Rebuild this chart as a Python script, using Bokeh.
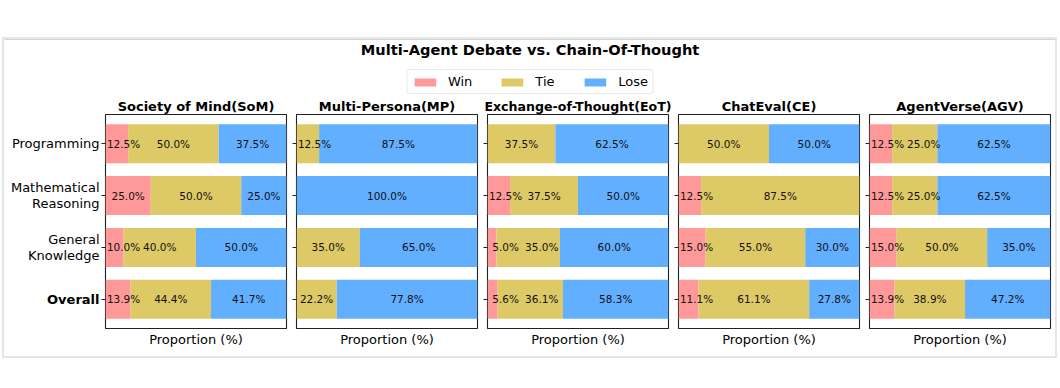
from bokeh.plotting import figure
from bokeh.models import (ColumnDataSource, Range1d, FixedTicker, LinearAxis,
                          Legend, LegendItem)
from bokeh.layouts import column, row
from bokeh.core.properties import value
from bokeh.embed import file_html
from bokeh.resources import INLINE

# ---------------- data ----------------
categories = ["Programming", "Mathematical\nReasoning", "General\nKnowledge", "Overall"]
category_bold = [False, False, False, True]
methods = ["Society of Mind(SoM)", "Multi-Persona(MP)", "Exchange-of-Thought(EoT)",
           "ChatEval(CE)", "AgentVerse(AGV)"]
win_som = [12.5, 25.0, 10.0, 13.9]
tie_som = [50.0, 50.0, 40.0, 44.4]
lose_som = [37.5, 25.0, 50.0, 41.7]
win_mp = [0.0, 0.0, 0.0, 0.0]
tie_mp = [12.5, 0.0, 35.0, 22.2]
lose_mp = [87.5, 100.0, 65.0, 77.8]
win_eot = [0.0, 12.5, 5.0, 5.6]
tie_eot = [37.5, 37.5, 35.0, 36.1]
lose_eot = [62.5, 50.0, 60.0, 58.3]
win_ce = [0.0, 12.5, 15.0, 11.1]
tie_ce = [50.0, 87.5, 55.0, 61.1]
lose_ce = [50.0, 0.0, 30.0, 27.8]
win_agv = [12.5, 12.5, 15.0, 13.9]
tie_agv = [25.0, 25.0, 50.0, 38.9]
lose_agv = [62.5, 62.5, 35.0, 47.2]
series_names = ["Win", "Tie", "Lose"]
colors = ["#FF9999", "#DDCA66", "#62AFFF"]
title_text = "Multi-Agent Debate vs. Chain-Of-Thought"
xlabel = "Proportion (%)"

panel_data = [
    (win_som, tie_som, lose_som),
    (win_mp, tie_mp, lose_mp),
    (win_eot, tie_eot, lose_eot),
    (win_ce, tie_ce, lose_ce),
    (win_agv, tie_agv, lose_agv),
]

FONT = "DejaVu Sans"
n = len(categories)
ypos = [n - 1 - i for i in range(n)]  # first category at top
y_range = Range1d(-0.5625, n - 1 + 0.5625)

# ---------------- category label strip (left of the first panel) ----------------
strip = figure(frame_width=96, frame_height=214, min_border_left=0, min_border_right=0,
               min_border_top=18, min_border_bottom=28,
               x_range=Range1d(0, 1), y_range=y_range,
               x_axis_location=None, y_axis_location=None,
               toolbar_location=None, output_backend="svg")
strip.outline_line_color = None
strip.xgrid.visible = False
strip.ygrid.visible = False
for bold in (False, True):
    ys = [ypos[i] for i in range(n) if category_bold[i] == bold]
    ts = [categories[i] for i in range(n) if category_bold[i] == bold]
    strip.text(x=[1] * len(ys), y=ys, text=ts, x_offset=-1,
               text_align="right", text_baseline="middle",
               text_font=value(FONT), text_font_size=value("13px"),
               text_font_style="bold" if bold else "normal",
               text_line_height=1.1, text_color="black")

panels = [strip]
for k, (meth, vals) in enumerate(zip(methods, panel_data)):
    p = figure(frame_width=181, frame_height=214,
               min_border_left=5, min_border_right=5,
               min_border_top=18, min_border_bottom=28,
               x_range=Range1d(0, 100), y_range=y_range,
               x_axis_location=None, y_axis_location=None,
               toolbar_location=None, output_backend="svg")
    p.title.text = meth
    p.title.align = "center"
    p.title.text_font = FONT
    p.title.text_font_size = "13px" if len(meth) < 22 else "12.6px"
    p.title.text_font_style = "bold"
    p.title.text_color = "black"
    p.title.standoff = 2
    p.xgrid.visible = False
    p.ygrid.visible = False
    p.outline_line_color = "#222222"
    p.outline_line_width = 1.1
    p.background_fill_color = "white"
    p.border_fill_color = "white"

    # stacked bars + labels
    lefts = [0.0] * n
    prev_label = [-10.0] * n
    tx, ty, tt = [], [], []
    for s, (sname, col) in enumerate(zip(series_names, colors)):
        v = vals[s]
        rights = [l + w for l, w in zip(lefts, v)]
        src = ColumnDataSource(dict(y=ypos, left=lefts, right=rights))
        p.hbar(y="y", left="left", right="right", height=0.75, source=src,
               fill_color=col, line_color=None)
        for i in range(n):
            if v[i] > 0:
                c = lefts[i] + v[i] / 2
                pos = max(c, prev_label[i] + 20)
                prev_label[i] = pos
                tx.append(pos)
                ty.append(ypos[i])
                tt.append(f"{v[i]:.1f}%")
        lefts = rights
    p.text(x="x", y="y", text="t", source=ColumnDataSource(dict(x=tx, y=ty, t=tt)),
           text_align="center", text_baseline="middle", text_font=value(FONT),
           text_font_size=value("10.5px"), text_color="#111111")

    # y axis: tick marks only (labels live in the strip)
    yax = LinearAxis(ticker=FixedTicker(ticks=ypos))
    yax.axis_line_color = None
    yax.major_tick_in = 0
    yax.major_tick_out = 4
    yax.major_tick_line_color = "#222222"
    yax.minor_tick_line_color = None
    yax.major_label_overrides = {y: "" for y in ypos}
    yax.major_label_text_font_size = "0px"
    yax.major_label_standoff = 0
    p.add_layout(yax, "left")

    # x axis (label only)
    xax = LinearAxis(ticker=FixedTicker(ticks=[]), axis_label=xlabel)
    xax.axis_line_color = None
    xax.major_tick_line_color = None
    xax.minor_tick_line_color = None
    xax.major_label_text_font_size = "0px"
    xax.axis_label_standoff = 3
    xax.axis_label_text_font = FONT
    xax.axis_label_text_font_size = "13px"
    xax.axis_label_text_font_style = "normal"
    xax.axis_label_text_color = "black"
    p.add_layout(xax, "below")
    panels.append(p)

# ---------------- top: title + legend ----------------
top = figure(width=1051, height=56, min_border=0, x_axis_location=None,
             y_axis_location=None, toolbar_location=None, output_backend="svg",
             x_range=Range1d(0, 1), y_range=Range1d(0, 56))
top.outline_line_color = None
top.xgrid.visible = False
top.ygrid.visible = False
top.text(x=[0.5], y=[56], text=[title_text], y_offset=10,
         text_align="center", text_baseline="middle", text_font=value(FONT),
         text_font_size=value("14.6px"), text_font_style="bold", text_color="black")
items = []
for sname, col in zip(series_names, colors):
    # legend-only renderers, placed outside the visible range
    r = top.hbar(y=[500], left=[0], right=[1], height=1, fill_color=col, line_color=None)
    items.append(LegendItem(label=sname, renderers=[r]))
leg = Legend(items=items, orientation="horizontal", location="bottom_center")
leg.label_text_font = FONT
leg.label_text_font_size = "13px"
leg.label_text_color = "black"
leg.glyph_width = 27
leg.glyph_height = 10
leg.label_standoff = 10
leg.spacing = 26
leg.padding = 4
leg.margin = 1
leg.border_line_color = "#d5d5d5"
leg.border_line_width = 1
leg.background_fill_alpha = 1
if "border_radius" in Legend.properties():
    leg.border_radius = 3
top.add_layout(leg, "center")

layout = column(top, row(*panels, spacing=0), spacing=0,
                styles={"border": "2px solid #e3e8e3", "margin-left": "2px",
                        "margin-top": "37px", "background-color": "white"})

with open("out.html", "w") as f:
    f.write(file_html(layout, INLINE))
